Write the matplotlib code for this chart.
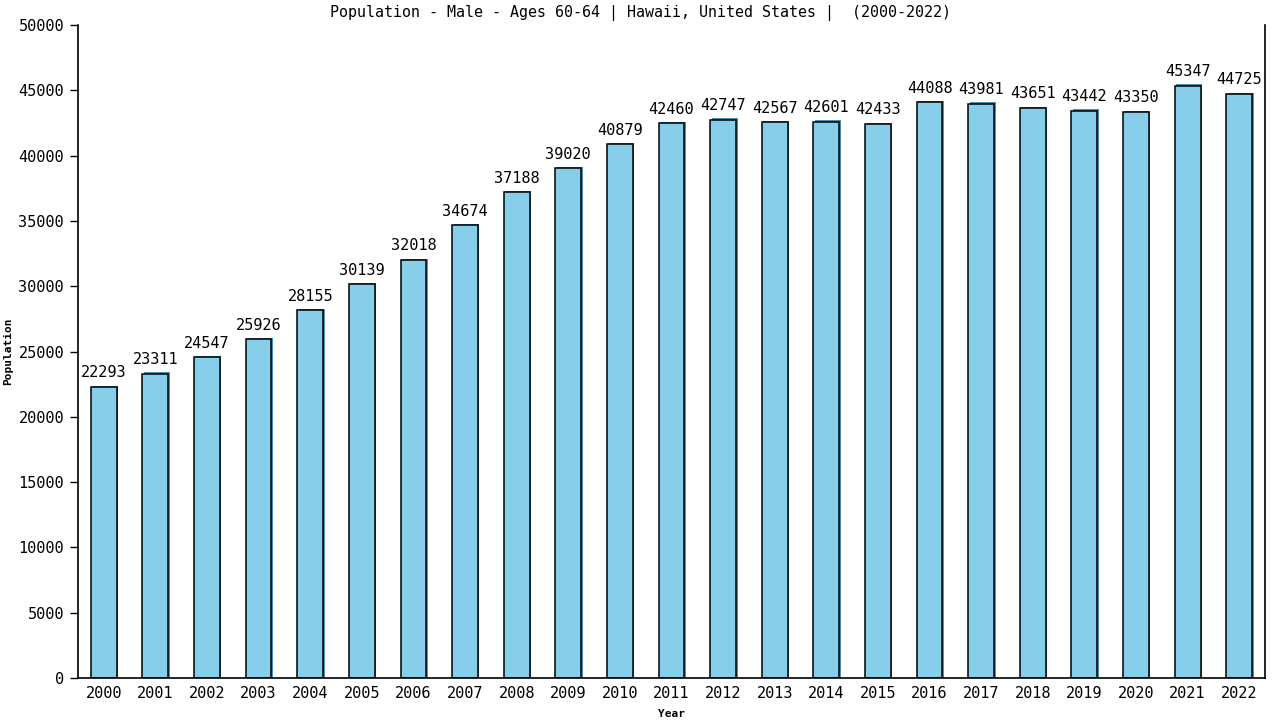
import matplotlib
matplotlib.use("Agg")
import matplotlib.pyplot as plt
import numpy as np

years = [str(y) for y in range(2000, 2023)]
population = [22293, 23311, 24547, 25926, 28155, 30139, 32018, 34674, 37188,
              39020, 40879, 42460, 42747, 42567, 42601, 42433, 44088, 43981,
              43651, 43442, 43350, 45347, 44725]

plt.rcParams['font.family'] = ['DejaVu Sans Mono']

fig = plt.figure(figsize=(12.8, 7.2), dpi=100)
ax = fig.add_axes([0.0609, 0.0583, 0.9274, 0.907])

x = np.arange(len(years))
# thin shadow behind each bar
ax.bar(x + 0.03, np.array(population) + 100, width=0.5, color='#4a8fb5',
       edgecolor='none', zorder=1)
ax.bar(x, population, width=0.5, color='#87CEEB', edgecolor='black',
       linewidth=1.1, zorder=2)

for xi, v in zip(x, population):
    ax.text(xi, v + 500, str(v), ha='center', va='bottom', fontsize=11,
            color='black')

ax.set_xlim(-0.5, len(years) - 0.5)
ax.set_ylim(0, 50000)
ax.set_xticks(x)
ax.set_xticklabels(years, fontsize=11)
ax.set_yticks(np.arange(0, 50001, 5000))
ax.set_yticklabels([str(v) for v in range(0, 50001, 5000)], fontsize=11)
ax.tick_params(axis='x', length=0, pad=6)
ax.tick_params(axis='y', length=6, width=1, direction='out', pad=4)

ax.spines['top'].set_visible(False)
ax.spines['left'].set_linewidth(1.2)
ax.spines['right'].set_linewidth(1.2)
ax.spines['bottom'].set_linewidth(1.2)

# title is centred on the figure, not the axes
fig.text(0.5, 0.982, 'Population - Male - Ages 60-64 | Hawaii, United States |  (2000-2022)',
         fontsize=10.8, ha='center', va='center')
ax.set_xlabel('Year', fontsize=8, fontweight='bold')
ax.set_ylabel('Population', fontsize=8, fontweight='bold')
ax.xaxis.set_label_coords(0.5, -0.047)
ax.yaxis.set_label_coords(-0.055, 0.5)

fig.savefig('out.png', dpi=100)
